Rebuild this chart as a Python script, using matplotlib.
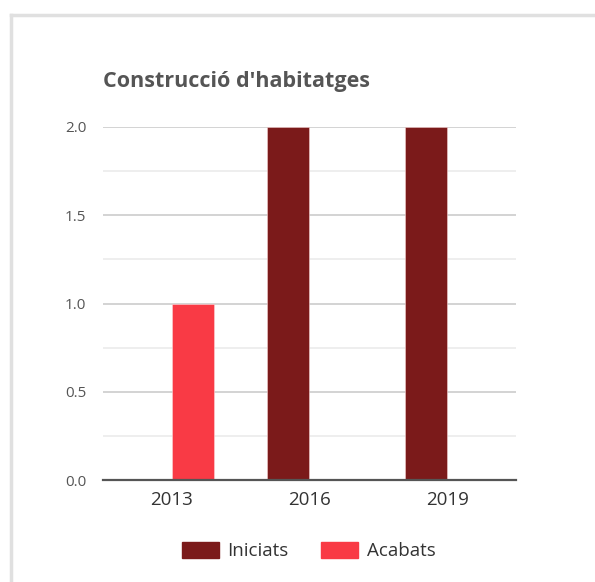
import matplotlib
matplotlib.use("Agg")
import matplotlib.pyplot as plt
from matplotlib.patches import Rectangle
from matplotlib.lines import Line2D
import numpy as np

categories = ["2013", "2016", "2019"]
iniciats = [0, 2, 2]
acabats = [1, 0, 0]
yticks = [0.0, 0.5, 1.0, 1.5, 2.0]
title = "Construcció d'habitatges"
series_names = ["Iniciats", "Acabats"]
colors = ["#7b1a1a", "#f93a45"]

plt.rcParams['font.family'] = ['Open Sans', 'DejaVu Sans']

W, H = 595, 582
fig = plt.figure(figsize=(W / 100, H / 100), dpi=100)

# card border
fig.add_artist(Line2D([10.5 / W, 1.0], [1 - 15 / H, 1 - 15 / H], color="#e0e0e0", lw=2.5,
                      transform=fig.transFigure))
fig.add_artist(Line2D([10.5 / W, 10.5 / W], [1 - 15 / H, 0], color="#e0e0e0", lw=2.5,
                      transform=fig.transFigure))

ax = fig.add_axes([103 / W, 1 - 480 / H, (516 - 103) / W, (480 - 127) / H])
x = np.arange(len(categories))
w = 0.305
ax.bar(x - 0.157, iniciats, width=w, color=colors[0], label=series_names[0],
       edgecolor="#f5d0d0", linewidth=0.4, zorder=3)
ax.bar(x + 0.157, acabats, width=w, color=colors[1], label=series_names[1],
       edgecolor="#fbd5d7", linewidth=0.4, zorder=3)

ax.set_xlim(-0.5, 2.5)
ax.set_ylim(0, 2)
ax.set_yticks(yticks)
ax.set_yticklabels([f"{v:.1f}" for v in yticks])
ax.set_yticks(np.arange(0.25, 2.0, 0.5), minor=True)
ax.set_xticks(x)
ax.set_xticklabels(categories)

ax.grid(axis="y", which="major", color="#cccccc", lw=1.2, zorder=0)
ax.grid(axis="y", which="minor", color="#ebebeb", lw=1.2, zorder=0)
for s in ["top", "right", "left"]:
    ax.spines[s].set_visible(False)
ax.spines["bottom"].set_color("#555555")
ax.spines["bottom"].set_linewidth(1.6)
ax.spines["bottom"].set_zorder(4)
ax.tick_params(axis="both", which="both", length=0)
ax.tick_params(axis="y", labelsize=11, labelcolor="#555555", pad=12)
ax.tick_params(axis="x", labelsize=13.5, labelcolor="#333333", pad=8)

fig.text(103 / W, 1 - 82 / H, title, fontsize=15.5, fontweight="bold", color="#555555",
         ha="left", va="center")

handles = [Rectangle((0, 0), 1, 1, color=c) for c in colors]
leg = fig.legend(handles, series_names, loc="center", bbox_to_anchor=(308.5 / W, 1 - 551 / H),
                 ncol=2, frameon=False, fontsize=13.5, handlelength=2.0, handleheight=0.95,
                 handletextpad=0.45, columnspacing=1.7, borderpad=0.2)
for t in leg.get_texts():
    t.set_color("#333333")

fig.savefig("out.png", dpi=100)
